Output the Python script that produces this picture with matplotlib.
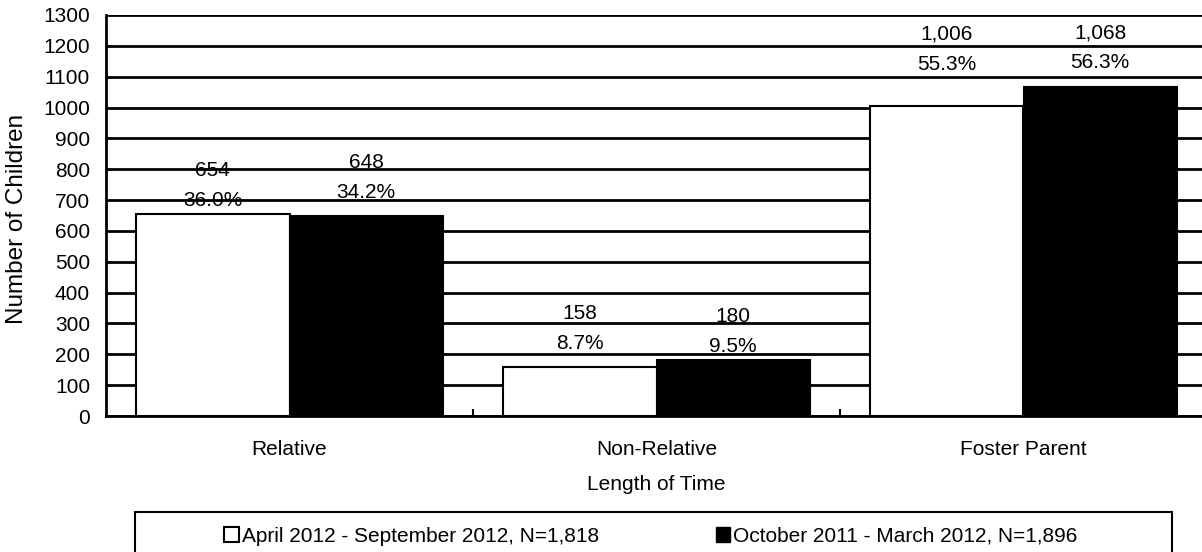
import numpy as np
import matplotlib
matplotlib.use('Agg')
import matplotlib.pyplot as plt
from matplotlib.patches import Patch, Rectangle

plt.rcParams['font.family'] = ['Liberation Sans', 'DejaVu Sans']

categories = ['Relative', 'Non-Relative', 'Foster Parent']
apr_sep_2012 = [654, 158, 1006]
oct_mar_2012 = [648, 180, 1068]
apr_sep_pct = ['36.0%', '8.7%', '55.3%']
oct_mar_pct = ['34.2%', '9.5%', '56.3%']
series_names = ['April 2012 - September 2012, N=1,818',
                'October 2011 - March 2012, N=1,896']

# offset (points) of the percent label above each bar
pct_offset = [[10, 17], [17, 10], [30, 17]]

fig = plt.figure(figsize=(12.02, 5.52), dpi=100)
ax = fig.add_axes([106/1202, 136/552, 1101/1202, 401/552])

x = np.arange(len(categories))
w = 0.418
ax.bar(x - w/2, apr_sep_2012, w, color='white', edgecolor='black', linewidth=1.5, zorder=3)
ax.bar(x + w/2, oct_mar_2012, w, color='black', edgecolor='black', linewidth=1.5, zorder=3)

def fmt(v):
    return '{:,}'.format(v)

fs = 15
for i in range(len(categories)):
    for j, (vals, pcts) in enumerate([(apr_sep_2012, apr_sep_pct), (oct_mar_2012, oct_mar_pct)]):
        xc = x[i] + (j - 0.5) * w
        off = pct_offset[i][j]
        ax.annotate(pcts[i], (xc, vals[i]), xytext=(0, off), textcoords='offset points',
                    ha='center', va='center', fontsize=fs, zorder=4)
        ax.annotate(fmt(vals[i]), (xc, vals[i]), xytext=(0, off + 21.6), textcoords='offset points',
                    ha='center', va='center', fontsize=fs, zorder=4)

ax.set_xlim(-0.5, 2.5)
ax.set_ylim(0, 1300)
ax.set_yticks(np.arange(0, 1301, 100))
ax.yaxis.grid(True, color='black', linewidth=2, zorder=1)
ax.set_axisbelow(True)
ax.set_xticks(x)
ax.set_xticklabels(categories, fontsize=fs)
ax.set_xticks([0.5, 1.5], minor=True)
ax.tick_params(axis='x', which='major', length=0, pad=17)
ax.tick_params(axis='x', which='minor', direction='in', length=5, width=1.5)
ax.tick_params(axis='y', length=0, labelsize=fs, pad=11.5)
for s in ['top', 'right']:
    ax.spines[s].set_visible(False)
for s in ['left', 'bottom']:
    ax.spines[s].set_linewidth(2)

ax.set_ylabel('Number of Children', fontsize=17.5, va='center')
ax.yaxis.set_label_coords(-89/1101, 197/401)
ax.set_xlabel('Length of Time', fontsize=fs, labelpad=12)

# legend frame
fig.patches.append(Rectangle((135/1202, -10/552), 1037/1202, 50/552, transform=fig.transFigure,
                             fill=False, edgecolor='black', linewidth=1.5))
handles = [Patch(facecolor='white', edgecolor='black', linewidth=1.5),
           Patch(facecolor='black', edgecolor='black')]
fig.legend(handles, series_names, loc='center', bbox_to_anchor=(651/1202, 16/552),
           ncol=2, frameon=False, fontsize=fs, handlelength=0.7, handleheight=0.7,
           handletextpad=0.15, columnspacing=5.6)

fig.savefig('out.png', dpi=100)
